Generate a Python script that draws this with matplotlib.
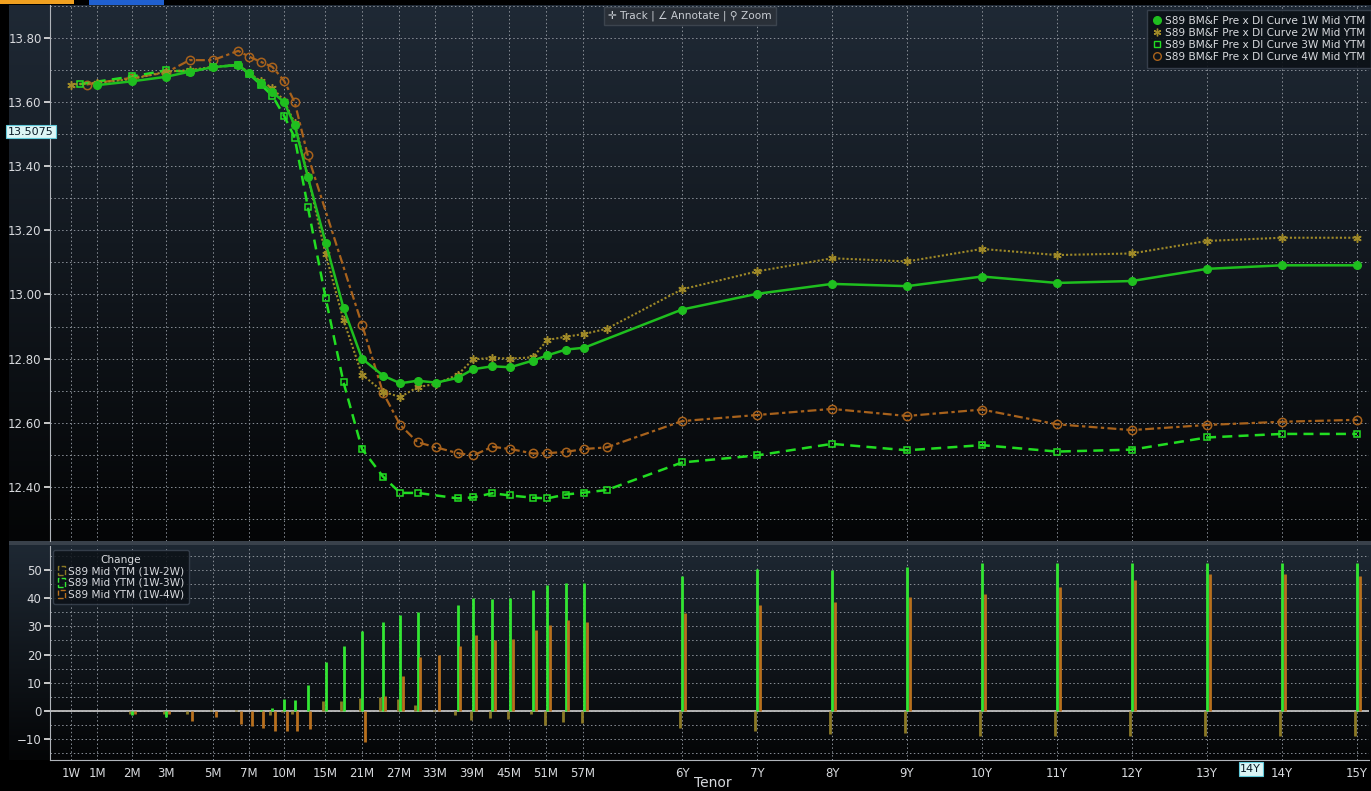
import numpy as np
import matplotlib.pyplot as plt
from matplotlib import transforms
from matplotlib.lines import Line2D
from matplotlib.patches import Patch, Rectangle
from matplotlib.colors import LinearSegmentedColormap

FONTS = ['DejaVu Sans Condensed', 'Liberation Sans Narrow', 'DejaVu Sans']
plt.rcParams['font.family'] = FONTS

# x axis: tenor in months, Bloomberg style uneven spacing
tick_months = [0.25, 1, 2, 3, 5, 7, 10, 15, 21, 27, 33, 39, 45, 51, 57,
               72, 84, 96, 108, 120, 132, 144, 156, 168, 180]
tick_labels = ['1W', '1M', '2M', '3M', '5M', '7M', '10M', '15M', '21M', '27M', '33M',
               '39M', '45M', '51M', '57M', '6Y', '7Y', '8Y', '9Y', '10Y', '11Y',
               '12Y', '13Y', '14Y', '15Y']
tick_pos = [71, 97, 132, 166, 213, 249, 284, 325, 362, 399, 435, 472, 509, 546, 583,
            682, 757, 832, 907, 982, 1057, 1132, 1207, 1282, 1357]

# curve 1W (green, filled circles)
t_1w = [1, 2, 3, 4, 5, 6.4, 7, 8, 9, 10, 11.3, 12.9, 15.1, 18, 21, 24.4, 27.2, 30.1,
        33.2, 36.7, 39.2, 42.3, 45.2, 48.9, 51.2, 54.2, 57.2,
        72, 84, 96, 108, 120, 132, 144, 156, 168, 180]
y_1w = [13.653, 13.665, 13.679, 13.695, 13.709, 13.716, 13.690, 13.660, 13.632, 13.600,
        13.528, 13.367, 13.162, 12.958, 12.800, 12.747, 12.723, 12.731, 12.725, 12.740,
        12.767, 12.776, 12.773, 12.794, 12.810, 12.828, 12.834,
        12.953, 13.002, 13.033, 13.026, 13.056, 13.036, 13.042, 13.080, 13.091, 13.091]

# curve 2W (olive, stars, dotted)
t_2w = [0.25, 1, 2, 3, 4, 5, 6.4, 7, 8, 9, 10, 11.3, 12.9, 15.1, 18, 21, 24.4, 27.2,
        30.1, 33.2, 36.7, 39.2, 42.3, 45.2, 48.9, 51.2, 54.2, 57.2, 60.6,
        72, 84, 96, 108, 120, 132, 144, 156, 168, 180]
y_2w = [13.655, 13.660, 13.672, 13.695, 13.700, 13.710, 13.716, 13.692, 13.665, 13.645,
        13.605, 13.535, 13.370, 13.126, 12.920, 12.750, 12.697, 12.680, 12.711, 12.721,
        12.750, 12.798, 12.802, 12.800, 12.804, 12.858, 12.868, 12.877, 12.893,
        13.016, 13.072, 13.113, 13.103, 13.142, 13.123, 13.128, 13.167, 13.177, 13.177]

# curve 3W (green, open squares, dashed)
t_3w = [0.5, 2, 3, 4, 5, 6.4, 7, 8, 9, 10, 11.3, 12.9, 15.1, 18, 21, 24.4, 27.2, 30.1,
        36.7, 39.2, 42.3, 45.2, 48.9, 51.2, 54.2, 57.2, 60.6,
        72, 84, 96, 108, 120, 132, 144, 156, 168, 180]
y_3w = [13.656, 13.680, 13.699, 13.695, 13.709, 13.716, 13.688, 13.655, 13.620, 13.558,
        13.489, 13.274, 12.989, 12.726, 12.518, 12.432, 12.381, 12.381,
        12.364, 12.367, 12.380, 12.373, 12.366, 12.364, 12.376, 12.382, 12.390,
        12.476, 12.498, 12.534, 12.514, 12.530, 12.510, 12.516, 12.554, 12.565, 12.565]

# curve 4W (brown, open circles, dash-dot)
t_4w = [0.7, 2, 3, 4, 5, 6.4, 7, 8, 9, 10, 11.3, 12.9, 21, 24.4, 27.2, 30.1, 33.2,
        36.7, 39.2, 42.3, 45.2, 48.9, 51.2, 54.2, 57.2, 60.6,
        72, 84, 96, 108, 120, 132, 144, 156, 168, 180]
y_4w = [13.655, 13.676, 13.692, 13.731, 13.731, 13.760, 13.742, 13.726, 13.710, 13.667,
        13.600, 13.434, 12.906, 12.694, 12.593, 12.539, 12.523, 12.505, 12.498, 12.525,
        12.518, 12.504, 12.505, 12.509, 12.518, 12.523,
        12.605, 12.624, 12.643, 12.621, 12.641, 12.595, 12.577, 12.593, 12.603, 12.609]

# change panel (bp)
t_chg = [2, 3, 4, 5, 6.4, 7, 8, 9, 10, 11.3, 12.9, 15.1, 18, 21, 24.4, 27.2, 30.1, 33.2,
         36.7, 39.2, 42.3, 45.2, 48.9, 51.2, 54.2, 57.2,
         72, 84, 96, 108, 120, 132, 144, 156, 168, 180]
chg_2w = [-1, -1, -1, 0.3, 0.3, 0, 0, -1.4, -0.5, -1, 0, 3.6, 3.6, 4.7, 5.1, 4.1, 2, 0.5,
          -1.4, -3.1, -2.5, -2.7, -1.2, -4.9, -4, -4.4,
          -6.2, -7, -8.2, -7.9, -8.8, -8.8, -8.8, -8.8, -8.8, -8.8]
chg_3w = [-1.5, -2, 0, 0, 0, 0, 0.5, 1.2, 4.2, 3.9, 9.3, 17.3, 23.2, 28.2, 31.5, 34.2, 35,
          np.nan, 37.6, 40, 39.6, 40, 42.8, 44.6, 45.2, 45.2,
          47.7, 50.4, 49.9, 51.2, 52.6, 52.6, 52.6, 52.6, 52.6, 52.6]
chg_4w = [-1, -1, -3.7, -2, -4.7, -5.3, -6.2, -7.2, -7.2, -7, -6.4, np.nan, np.nan, -10.9,
          5.4, 12.5, 19, 19.8, 23, 26.8, 25, 25.5, 28.8, 30.5, 32.1, 31.5,
          34.6, 37.6, 38.8, 40.4, 41.5, 43.9, 46.4, 48.7, 48.7, 47.7]

W, H = 1371, 791
fig = plt.figure(figsize=(W / 100, H / 100), dpi=100, facecolor='black')


def fbox(x0, y0, x1, y1):
    return [x0 / W, 1 - y1 / H, (x1 - x0) / W, (y1 - y0) / H]


# panel backgrounds (vertical gradient)
def gradient_bg(box, top, bottom):
    bg = fig.add_axes(box, zorder=0)
    cmap = LinearSegmentedColormap.from_list('g', [bottom, top])
    bg.imshow(np.linspace(0, 1, 256)[::-1].reshape(-1, 1) * np.ones((1, 2)),
              aspect='auto', cmap=cmap, extent=[0, 1, 0, 1])
    bg.set_axis_off()


gradient_bg(fbox(9, 5, 1371, 541), '#1f2935', '#040506')
gradient_bg(fbox(9, 545, 1371, 760), '#1e2833', '#040506')
fig.patches.append(Rectangle((9 / W, 1 - 545 / H), 1, 4 / H, transform=fig.transFigure,
                             facecolor='#39414b', edgecolor='none'))
fig.patches.append(Rectangle((0, 1 - 4 / H), 74 / W, 4 / H, transform=fig.transFigure,
                             facecolor='#f0a020', edgecolor='none'))
fig.patches.append(Rectangle((89 / W, 1 - 5 / H), 75 / W, 5 / H, transform=fig.transFigure,
                             facecolor='#2060d0', edgecolor='none'))

# tenor scale
anchor_m = [-1] + tick_months + [200]
anchor_p = [27.25] + tick_pos + [1482]


def fwd(m):
    return np.interp(m, anchor_m, anchor_p)


def inv(p):
    return np.interp(p, anchor_p, anchor_m)


xlo, xhi = inv(50), inv(1369)
grid_kw = dict(color='#8a9098', linestyle=(0, (1.5, 2.5)), linewidth=0.7)
txt = '#d8dade'
fs = 8.5
fs_leg = 7.6


def style(ax):
    ax.set_facecolor('none')
    ax.set_xscale('function', functions=(fwd, inv))
    ax.set_xlim(xlo, xhi)
    ax.set_xticks(tick_months)
    for s in ['top', 'right', 'bottom']:
        ax.spines[s].set_visible(False)
    ax.spines['left'].set_color('#b0b4ba')
    ax.tick_params(axis='y', colors='#e8e8e8', labelcolor=txt, labelsize=fs, length=4,
                   width=1.2, pad=2)
    ax.tick_params(axis='y', which='minor', length=0)
    ax.xaxis.grid(True, **grid_kw)
    ax.yaxis.grid(True, which='both', **grid_kw)
    ax.set_axisbelow(True)


# upper panel: curves
ax = fig.add_axes(fbox(50, 5, 1369, 541), zorder=2)
style(ax)
ax.set_ylim(12.231, 13.903)
ax.set_yticks(np.arange(12.4, 13.81, 0.2))
ax.set_yticks(np.arange(12.3, 13.91, 0.1), minor=True)
ax.yaxis.set_major_formatter(plt.FormatStrFormatter('%.2f'))
ax.tick_params(axis='x', labelbottom=False, length=0)

c_green, c_green2, c_olive, c_brown = '#1fbf1f', '#22dd22', '#a08a28', '#a8621c'
ax.plot(t_4w, y_4w, color=c_brown, lw=1.6, ls=(0, (4, 1.5, 1.5, 1.5)), marker='o',
        ms=6, mfc='none', mew=1.1, zorder=3)
ax.plot(t_3w, y_3w, color=c_green2, lw=1.8, ls=(0, (4, 2.5)), marker='s', ms=5,
        mfc='none', mew=1.1, zorder=4)
ax.plot(t_2w, y_2w, color=c_olive, lw=1.5, ls=(0, (1, 1)), marker=(6, 2, 0), ms=6,
        mew=1.1, zorder=4)
ax.plot(t_1w, y_1w, color=c_green, lw=1.8, marker='o', ms=5.5, zorder=5)

handles = [
    Line2D([], [], color=c_green, marker='o', ls='none', ms=5.5),
    Line2D([], [], color=c_olive, marker=(6, 2, 0), ls='none', ms=5.5),
    Line2D([], [], color=c_green2, marker='s', ls='none', ms=5, mfc='none'),
    Line2D([], [], color=c_brown, marker='o', ls='none', ms=5.5, mfc='none'),
]
labels = ['S89 BM&F Pre x DI Curve %s Mid YTM' % k for k in ['1W', '2W', '3W', '4W']]
leg = ax.legend(handles, labels, loc='upper right', bbox_to_anchor=(1.0, 1 - 10 / H),
                bbox_transform=fig.transFigure, borderaxespad=0, fontsize=fs_leg,
                handlelength=0.7, handletextpad=0.4, labelspacing=0.2,
                borderpad=0.55, frameon=True, fancybox=False)
leg.get_frame().set_facecolor('#0c1117')
leg.get_frame().set_edgecolor('#3a4350')
leg.get_frame().set_alpha(0.9)
for t in leg.get_texts():
    t.set_color(txt)

# crosshair readout on the y axis
ax.text(31 / W, 13.5075, '13.5075', transform=transforms.blended_transform_factory(
    fig.transFigure, ax.transData), ha='center', va='center', fontsize=fs_leg + 0.4,
    color='#0b1c28', bbox=dict(boxstyle='square,pad=0.15', facecolor='#dcf5f5',
                               edgecolor='#60c8d8', lw=0.8), zorder=10)

# toolbar
fig.text(690 / W, 1 - 16 / H, '\u271b Track | \u2220 Annotate | \u26b2 Zoom',
         ha='center', va='center', fontsize=fs_leg, color='#c8ccd2',
         bbox=dict(boxstyle='square,pad=0.4', facecolor='#2a3038', edgecolor='#3c444e'))

# lower panel: change bars
ax2 = fig.add_axes(fbox(50, 546, 1369, 760), zorder=2)
style(ax2)
ax2.spines['bottom'].set_visible(True)
ax2.spines['bottom'].set_color('#b0b4ba')
ax2.set_ylim(-17.4, 58.5)
ax2.set_yticks([-10, 0, 10, 20, 30, 40, 50])
ax2.set_yticks(np.arange(-15, 56, 5), minor=True)
ax2.set_xticklabels(tick_labels)
ax2.tick_params(axis='x', labelsize=fs, labelcolor=txt, length=0, pad=5)
ax2.axhline(0, color='#c0c0c0', lw=1.3, zorder=2)

c_bar2, c_bar3, c_bar4 = '#8c7a26', '#33e633', '#b8701e'
t_arr = np.array(t_chg, dtype=float)
for vals, col, dx in [(chg_2w, c_bar2, -2.5), (chg_3w, c_bar3, 0.0), (chg_4w, c_bar4, 2.5)]:
    v = np.array(vals, dtype=float)
    ok = ~np.isnan(v)
    tr = transforms.offset_copy(ax2.transData, fig=fig, x=dx, y=0, units='dots')
    ax2.vlines(t_arr[ok], 0, v[ok], colors=col, lw=2, transform=tr, zorder=3)

h2 = [Patch(facecolor='none', edgecolor=c, ls='--', lw=1) for c in (c_bar2, c_bar3, c_bar4)]
leg2 = ax2.legend(h2, ['S89 Mid YTM (1W-2W)', 'S89 Mid YTM (1W-3W)', 'S89 Mid YTM (1W-4W)'],
                  title='Change', loc='upper left', bbox_to_anchor=(53 / W, 1 - 550 / H),
                  bbox_transform=fig.transFigure, borderaxespad=0, fontsize=fs_leg,
                  title_fontsize=fs_leg, handlelength=0.7, handleheight=0.9,
                  handletextpad=0.3, labelspacing=0.15, borderpad=0.45, fancybox=True)
leg2.get_frame().set_facecolor('#0c1117')
leg2.get_frame().set_edgecolor('#3a4350')
leg2.get_frame().set_alpha(0.85)
leg2.get_title().set_color(txt)
for t in leg2.get_texts():
    t.set_color(txt)

ax2.text(163, 1 - 769 / H, '14Y', transform=transforms.blended_transform_factory(
    ax2.transData, fig.transFigure), ha='center', va='center', fontsize=fs_leg + 0.4,
    color='#0b1c28', bbox=dict(boxstyle='square,pad=0.15', facecolor='#dcf5f5',
                               edgecolor='#60c8d8', lw=0.8), zorder=10)

fig.text(713 / W, 1 - 783 / H, 'Tenor', ha='center', va='center', fontsize=10, color=txt)

fig.savefig('out.png', dpi=100, facecolor='black')
